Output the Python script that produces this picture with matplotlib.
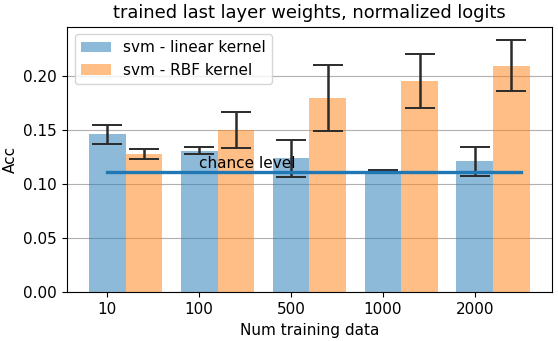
import matplotlib
matplotlib.use("Agg")
import matplotlib.pyplot as plt
import numpy as np

categories = ["10", "100", "500", "1000", "2000"]
linear_mean = [0.146, 0.131, 0.124, 0.1125, 0.121]
linear_err = [0.0088, 0.003, 0.017, 0.0002, 0.0135]
rbf_mean = [0.1276, 0.150, 0.180, 0.195, 0.2097]
rbf_err = [0.0046, 0.017, 0.0305, 0.025, 0.024]
chance = 1 / 9

fs = 11
fig = plt.figure(figsize=(5.58, 3.41), dpi=100)
ax = fig.add_axes([0.120, 0.143, 0.869, 0.779])

x = np.arange(len(categories))
w = 0.4
ax.bar(x, linear_mean, w, yerr=linear_err, color="C0", alpha=0.5,
       ecolor="#2b2b2b", capsize=10.5, error_kw=dict(elinewidth=1.8, capthick=1.4),
       label="svm - linear kernel")
ax.bar(x + w, rbf_mean, w, yerr=rbf_err, color="C1", alpha=0.5,
       ecolor="#2b2b2b", capsize=10.5, error_kw=dict(elinewidth=1.8, capthick=1.4),
       label="svm - RBF kernel")
ax.plot([0, len(categories) - 0.5], [chance, chance], color="C0", lw=2.4)
ax.text(1, 0.115, "chance level", fontsize=fs)

ax.set_xticks(x)
ax.set_xticklabels(categories, fontsize=fs)
ax.tick_params(axis="y", labelsize=fs)
ax.yaxis.set_major_formatter(matplotlib.ticker.FormatStrFormatter("%.2f"))
ax.set_yticks([0, 0.05, 0.10, 0.15, 0.20])
ax.set_ylim(0, 0.2457)
ax.grid(axis="y", color="#b0b0b0")
ax.set_axisbelow(True)
ax.set_xlabel("Num training data", fontsize=fs)
ax.set_ylabel("Acc", fontsize=fs)
ax.set_title("trained last layer weights, normalized logits", fontsize=12.9)
ax.legend(loc="upper left", fontsize=fs)

fig.savefig("out.png", dpi=100)
